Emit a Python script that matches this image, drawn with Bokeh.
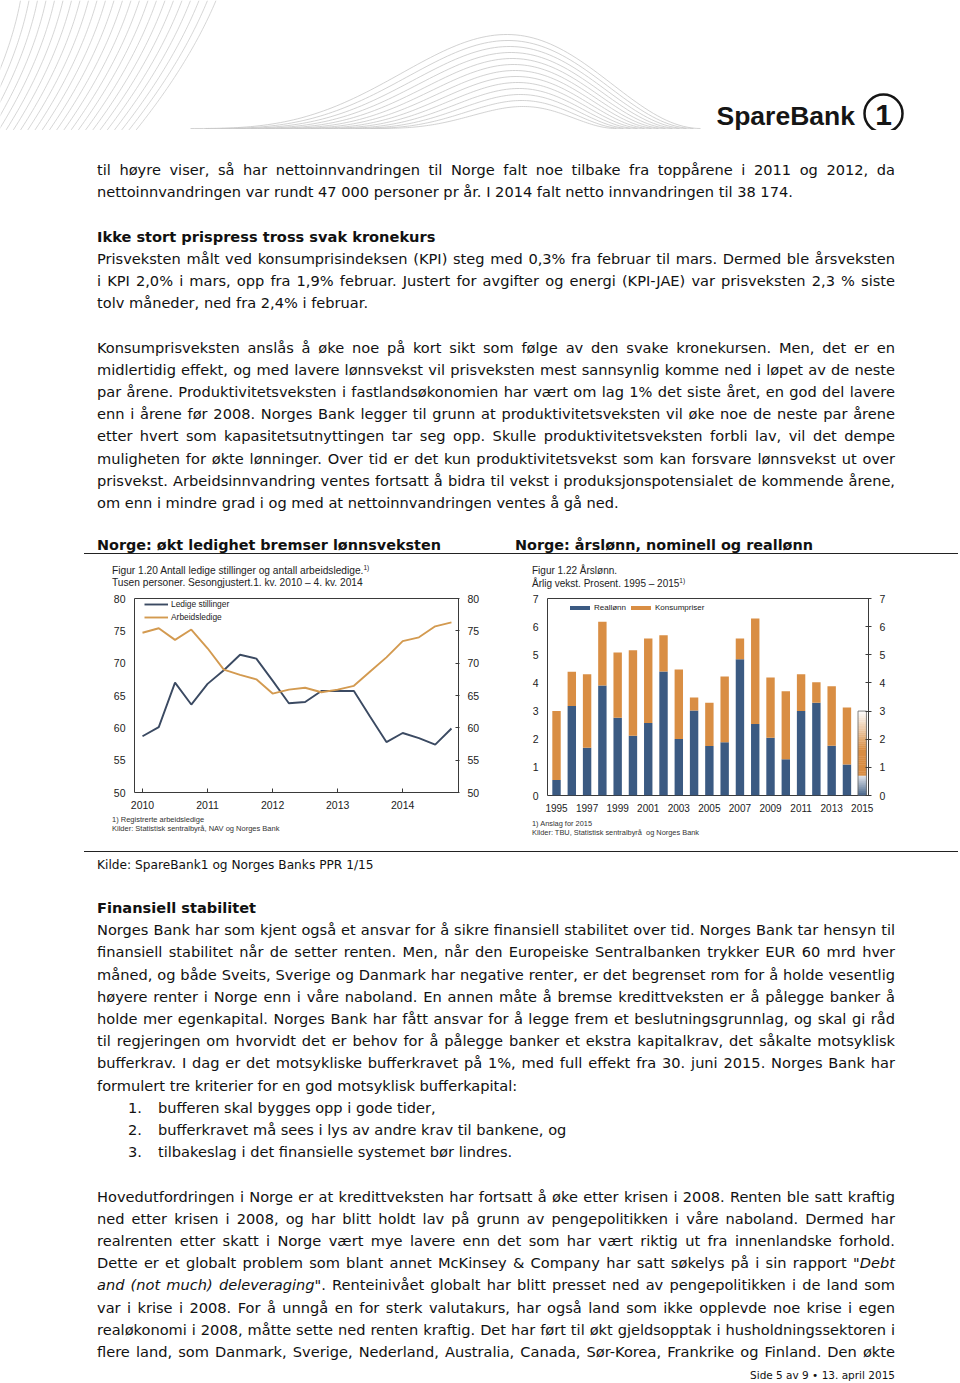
import numpy as np
from bokeh.plotting import figure
from bokeh.layouts import column, row
from bokeh.models import (Div, Spacer, Range1d, LinearAxis, Label, Legend, LegendItem,
                          FixedTicker, ColumnDataSource)
from bokeh.embed import file_html
from bokeh.resources import INLINE

# ---------------- data: chart 1 (quarterly) ----------------
periods = ["2010K1", "2010K2", "2010K3", "2010K4",
           "2011K1", "2011K2", "2011K3", "2011K4",
           "2012K1", "2012K2", "2012K3", "2012K4",
           "2013K1", "2013K2", "2013K3", "2013K4",
           "2014K1", "2014K2", "2014K3", "2014K4"]
ledige_stillinger = [58.7, 60.1, 67.0, 63.6, 66.8, 68.9, 71.3, 70.7, 67.3, 63.8,
                     64.0, 65.7, 65.7, 65.7, 61.7, 57.8, 59.2, 58.4, 57.4, 59.9]
arbeidsledige = [74.7, 75.4, 73.6, 75.2, 72.3, 69.0, 68.2, 67.5, 65.3, 65.9,
                 66.2, 65.5, 65.9, 66.5, 68.7, 70.9, 73.4, 74.0, 75.7, 76.3]
c1_xticks = [2010, 2011, 2012, 2013, 2014]
c1_yticks = [50, 55, 60, 65, 70, 75, 80]

# ---------------- data: chart 2 (annual) ----------------
aar = [1995, 1996, 1997, 1998, 1999, 2000, 2001, 2002, 2003, 2004, 2005,
       2006, 2007, 2008, 2009, 2010, 2011, 2012, 2013, 2014, 2015]
reallonn = [0.55, 3.18, 1.70, 3.91, 2.76, 2.12, 2.58, 4.41, 2.01, 3.02, 1.76,
            1.89, 4.84, 2.54, 2.05, 1.29, 3.00, 3.30, 1.77, 1.10, 0.71]
konsumpriser = [2.45, 1.22, 2.61, 2.26, 2.32, 3.04, 3.00, 1.28, 2.47, 0.46, 1.54,
                2.34, 0.74, 3.75, 2.14, 2.41, 1.31, 0.72, 2.11, 2.03, 2.29]
anslag = [False] * 20 + [True]
c2_xticks = [1995, 1997, 1999, 2001, 2003, 2005, 2007, 2009, 2011, 2013, 2015]
c2_yticks = [0, 1, 2, 3, 4, 5, 6, 7]

FONT = "Liberation Sans"
CHART_FONT_CSS = "'Liberation Sans', Arial, sans-serif"
LINE_BLUE = "#3b4a62"
LINE_ORANGE = "#d39a50"
BAR_BLUE = "#3b5a82"
BAR_ORANGE = "#d98e44"
FRAME = "#3a3a3a"
SUP = '<span style="font-size:6.5px;position:relative;top:-4px;line-height:0;">1)</span>'


def style_axis(ax, tin, tout, standoff, size="10.5px"):
    ax.axis_line_color = None
    ax.minor_tick_line_color = None
    ax.major_tick_in = tin
    ax.major_tick_out = tout
    if tin == 0 and tout == 0:
        ax.major_tick_line_color = None
    else:
        ax.major_tick_line_color = FRAME
    ax.major_label_standoff = standoff
    ax.major_label_text_font = FONT
    ax.major_label_text_font_size = size
    ax.major_label_text_color = "#222222"


def abs_line(html, left, center, size, lh, color="#222", width=400):
    top = center - lh / 2
    return (f'<div style="position:absolute;left:{left}px;top:{top:.1f}px;width:{width}px;'
            f'white-space:nowrap;font-size:{size}px;line-height:{lh}px;height:{lh}px;color:{color};">{html}</div>')


def chart_div(lines, w, h):
    inner = "".join(lines)
    return Div(text=(f'<div style="position:relative;width:{w}px;height:{h}px;'
                     f'font-family:{CHART_FONT_CSS};overflow:hidden;">{inner}</div>'),
               width=w, height=h, margin=0)


# ---------------- header ----------------
hd = figure(width=960, height=130, output_backend="svg", toolbar_location=None,
            x_range=Range1d(0, 960), y_range=Range1d(130, 0),
            x_axis_location=None, y_axis_location=None, min_border=0)
hd.grid.visible = False
hd.outline_line_color = None
t = np.linspace(0, 1, 50)
fxs, fys = [], []
for i in range(24):
    x0 = 20 + i * 8.5
    x1 = -32 + i * 7.2
    cx = (x0 + x1) / 2 + 14
    fxs.append(list((1 - t) ** 2 * x0 + 2 * (1 - t) * t * cx + t ** 2 * x1))
    fys.append(list((1 - t) ** 2 * 0 + 2 * (1 - t) * t * 64 + t ** 2 * 132))
hd.multi_line(fxs, fys, line_color="#cbcbcb", line_width=0.8)
u = np.linspace(0, 1, 120)
wxs, wys = [], []
for i in range(13):
    x0 = 190 + i * 15
    x1 = 700 - i * 7
    peak = 34 + i * 6
    wxs.append(list(x0 + (x1 - x0) * u))
    wys.append(list(128 - (128 - peak) * np.sin(np.pi * u ** 1.45) ** 2))
hd.multi_line(wxs, wys, line_color="#c6c6c6", line_width=0.8)
hd.add_layout(Label(x=716, y=115, text="SpareBank", text_font=FONT,
                    text_font_style="bold", text_font_size="26.5px", text_color="#151515",
                    text_baseline="middle"))
hd.circle(x=[883], y=[113], radius=19, fill_color=None, line_color="#151515", line_width=2.5)
hd.add_layout(Label(x=883, y=114, text="1", text_font=FONT, text_font_style="bold",
                    text_font_size="30px", text_color="#151515",
                    text_align="center", text_baseline="middle"))

# ---------------- chart 1 ----------------
qx = [int(s[:4]) + (int(s[-1]) - 1) / 4 for s in periods]
p1 = figure(width=405, height=223, output_backend="svg", toolbar_location=None,
            x_range=Range1d(2009.877, 2014.858), y_range=Range1d(50, 80),
            min_border_left=37, min_border_right=44, min_border_top=8, min_border_bottom=21)
p1.grid.visible = False
p1.outline_line_color = FRAME
p1.outline_line_width = 1
src1 = ColumnDataSource(dict(x=qx, ls=ledige_stillinger, al=arbeidsledige))
r_ls = p1.line("x", "ls", source=src1, line_color=LINE_BLUE, line_width=1.9)
r_al = p1.line("x", "al", source=src1, line_color=LINE_ORANGE, line_width=1.9)
p1.xaxis.ticker = FixedTicker(ticks=c1_xticks)
p1.yaxis.ticker = FixedTicker(ticks=c1_yticks)
style_axis(p1.xaxis[0], 4, 0, 8)
style_axis(p1.yaxis[0], 0, 0, 9)
ra1 = LinearAxis(ticker=FixedTicker(ticks=c1_yticks))
p1.add_layout(ra1, "right")
style_axis(ra1, 3, 1, 8)
leg1 = Legend(items=[LegendItem(label="Ledige stillinger", renderers=[r_ls]),
                     LegendItem(label="Arbeidsledige", renderers=[r_al])],
              location=(10, 169), orientation="vertical", padding=0, margin=0, spacing=1,
              glyph_width=24, glyph_height=12, label_height=12, label_standoff=3,
              label_text_font=FONT, label_text_font_size="8.4px", label_text_color="#222222",
              border_line_color=None, background_fill_alpha=0)
p1.add_layout(leg1)
t1 = chart_div([
    abs_line("Figur 1.20 Antall ledige stillinger og antall arbeidsledige." + SUP, 15, 16, 10.2, 12),
    abs_line("Tusen personer. Sesongjustert.1. kv. 2010 &ndash; 4. kv. 2014", 15, 28, 10.2, 12),
], 405, 35)
f1 = chart_div([
    abs_line("1) Registrerte arbeidsledige", 15, 6, 7.5, 9, "#333"),
    abs_line("Kilder: Statistisk sentralbyrå, NAV og Norges Bank", 15, 15, 7.5, 9, "#333"),
], 405, 37)

# ---------------- chart 2 ----------------
p2 = figure(width=420, height=225, output_backend="svg", toolbar_location=None,
            x_range=Range1d(1994.41, 2015.41), y_range=Range1d(0, 7),
            min_border_left=32, min_border_right=67, min_border_top=8, min_border_bottom=20)
p2.grid.visible = False
p2.outline_line_color = FRAME
p2.outline_line_width = 1
hist = [i for i, a in enumerate(anslag) if not a]
src2 = ColumnDataSource(dict(
    x=[aar[i] for i in hist],
    real=[reallonn[i] for i in hist],
    tot=[reallonn[i] + konsumpriser[i] for i in hist]))
BW = 0.55
r_real = p2.vbar(x="x", bottom=0, top="real", width=BW, source=src2,
                 fill_color=BAR_BLUE, line_color=None)
r_kpi = p2.vbar(x="x", bottom="real", top="tot", width=BW, source=src2,
                fill_color=BAR_ORANGE, line_color=None)


def mix(hexcol, w):
    r, g, b = int(hexcol[1:3], 16), int(hexcol[3:5], 16), int(hexcol[5:7], 16)
    return "#%02x%02x%02x" % (int(255 + (r - 255) * w), int(255 + (g - 255) * w), int(255 + (b - 255) * w))


n = 30
for i, a in enumerate(anslag):
    if not a:
        continue
    rv, kv = reallonn[i], konsumpriser[i]
    for lo, hi, col, kind in [(0, rv, BAR_BLUE, "b"), (rv, rv + kv, BAR_ORANGE, "o")]:
        edges = np.linspace(lo, hi, n + 1)
        f = (np.arange(n) + 0.5) / n
        if kind == "o":
            w = np.clip((1 - f) / 0.6, 0, 1)
        else:
            w = 0.15 + 0.85 * (1 - f)
        cols = [mix(col, wi) for wi in w]
        p2.vbar(x=[aar[i]] * n, bottom=list(edges[:-1]), top=list(edges[1:]), width=BW,
                fill_color=cols, line_color=cols, line_width=0.4)
    p2.vbar(x=[aar[i]], bottom=[0], top=[rv + kv], width=BW, fill_color=None,
            line_color="#666666", line_width=0.8)

p2.xaxis.ticker = FixedTicker(ticks=c2_xticks)
p2.yaxis.ticker = FixedTicker(ticks=c2_yticks)
style_axis(p2.xaxis[0], 0, 0, 8, "10px")
style_axis(p2.yaxis[0], 0, 0, 9)
ra2 = LinearAxis(ticker=FixedTicker(ticks=c2_yticks))
p2.add_layout(ra2, "right")
style_axis(ra2, 3, 3, 8)
leg2 = Legend(items=[LegendItem(label="Reallønn", renderers=[r_real]),
                     LegendItem(label="Konsumpriser", renderers=[r_kpi])],
              location=(20, 183.5), orientation="horizontal", padding=0, margin=0, spacing=2,
              glyph_width=25, glyph_height=5, label_height=5, label_width=10, label_standoff=2,
              label_text_font=FONT, label_text_font_size="8px", label_text_color="#222222",
              border_line_color=None, background_fill_alpha=0)
p2.add_layout(leg2)
t2 = chart_div([
    abs_line("Figur 1.22 Årslønn.", 17, 16, 10, 12),
    abs_line("Årlig vekst. Prosent. 1995 &ndash; 2015" + SUP, 17, 29, 10, 12),
], 420, 35)
f2 = chart_div([
    abs_line("1) Anslag for 2015", 17, 8, 7.4, 9, "#333"),
    abs_line("Kilder: TBU, Statistisk sentralbyrå&nbsp; og Norges Bank", 17, 17, 7.4, 9, "#333"),
], 420, 35)

# ---------------- text blocks ----------------
BODY = "'DejaVu Sans', Verdana, sans-serif"
LH = 22.2
FS = 14.6


def ln(text, center, origin, left=97, width=798, mode="J", bold=False, size=FS, lh=22):
    top = center - origin - lh / 2
    st = (f"position:absolute;left:{left}px;top:{top:.1f}px;width:{width}px;"
          f"line-height:{lh}px;font-size:{size}px;white-space:normal;")
    if mode == "J":
        st += "text-align:justify;text-align-last:justify;"
    elif mode == "R":
        st += "text-align:right;"
    else:
        st += "text-align:left;"
    if bold:
        st += "font-weight:bold;"
    return f'<div style="{st}">{text}</div>'


def rule(top, left=84, width=874):
    return (f'<div style="position:absolute;left:{left}px;top:{top}px;width:{width}px;'
            f'height:0;border-top:1px solid #222;"></div>')


def block(parts, h):
    return (f'<div style="position:relative;width:960px;height:{h}px;font-family:{BODY};'
            f'color:#111;overflow:hidden;">' + "".join(parts) + "</div>")


top_lines = [
    (0, "til høyre viser, så har nettoinnvandringen til Norge falt noe tilbake fra toppårene i 2011 og 2012, da", "J", False),
    (1, "nettoinnvandringen var rundt 47 000 personer pr år. I 2014 falt netto innvandringen til 38 174.", "L", False),
    (3, "Ikke stort prispress tross svak kronekurs", "L", True),
    (4, "Prisveksten målt ved konsumprisindeksen (KPI) steg med 0,3% fra februar til mars. Dermed ble årsveksten", "J", False),
    (5, "i KPI 2,0% i mars, opp fra 1,9% februar. Justert for avgifter og energi (KPI-JAE) var prisveksten 2,3 % siste", "J", False),
    (6, "tolv måneder, ned fra 2,4% i februar.", "L", False),
    (8, "Konsumprisveksten anslås å øke noe på kort sikt som følge av den svake kronekursen. Men, det er en", "J", False),
    (9, "midlertidig effekt, og med lavere lønnsvekst vil prisveksten mest sannsynlig komme ned i løpet av de neste", "J", False),
    (10, "par årene. Produktivitetsveksten i fastlandsøkonomien har vært om lag 1% det siste året, en god del lavere", "J", False),
    (11, "enn i årene før 2008. Norges Bank legger til grunn at produktivitetsveksten vil øke noe de neste par årene", "J", False),
    (12, "etter hvert som kapasitetsutnyttingen tar seg opp. Skulle produktivitetsveksten forbli lav, vil det dempe", "J", False),
    (13, "muligheten for økte lønninger. Over tid er det kun produktivitetsvekst som kan forsvare lønnsvekst ut over", "J", False),
    (14, "prisvekst. Arbeidsinnvandring ventes fortsatt å bidra til vekst i produksjonspotensialet de kommende årene,", "J", False),
    (15, "om enn i mindre grad i og med at nettoinnvandringen ventes å gå ned.", "L", False),
]
TOP0 = 130
parts1 = [ln(tx, 170 + k * LH, TOP0, mode=m, bold=b) for k, tx, m, b in top_lines]
parts1.append(ln("Norge: økt ledighet bremser lønnsveksten", 545, TOP0, mode="L", bold=True, width=410, size=14.4))
parts1.append(ln("Norge: årslønn, nominell og reallønn", 545, TOP0, left=515, mode="L", bold=True, width=420, size=14.4))
parts1.append(rule(553 - TOP0))
div1 = Div(text=block(parts1, 425), width=960, height=425, margin=0)

BOT0 = 850
bot_lines = [
    (0, "Finansiell stabilitet", "L", True),
    (1, "Norges Bank har som kjent også et ansvar for å sikre finansiell stabilitet over tid. Norges Bank tar hensyn til", "J", False),
    (2, "finansiell stabilitet når de setter renten. Men, når den Europeiske Sentralbanken trykker EUR 60 mrd hver", "J", False),
    (3, "måned, og både Sveits, Sverige og Danmark har negative renter, er det begrenset rom for å holde vesentlig", "J", False),
    (4, "høyere renter i Norge enn i våre naboland. En annen måte å bremse kredittveksten er å pålegge banker å", "J", False),
    (5, "holde mer egenkapital. Norges Bank har fått ansvar for å legge frem et beslutningsgrunnlag, og skal gi råd", "J", False),
    (6, "til regjeringen om hvorvidt det er behov for å pålegge banker et ekstra kapitalkrav, det såkalte motsyklisk", "J", False),
    (7, "bufferkrav. I dag er det motsykliske bufferkravet på 1%, med full effekt fra 30. juni 2015. Norges Bank har", "J", False),
    (8, "formulert tre kriterier for en god motsyklisk bufferkapital:", "L", False),
    (13, "Hovedutfordringen i Norge er at kredittveksten har fortsatt å øke etter krisen i 2008. Renten ble satt kraftig", "J", False),
    (14, "ned etter krisen i 2008, og har blitt holdt lav på grunn av pengepolitikken i våre naboland. Dermed har", "J", False),
    (15, "realrenten etter skatt i Norge vært mye lavere enn det som har vært riktig ut fra innenlandske forhold.", "J", False),
    (16, "Dette er et globalt problem som blant annet McKinsey &amp; Company har satt søkelys på i sin rapport <i>\"Debt</i>", "J", False),
    (17, "<i>and (not much) deleveraging\"</i>. Renteinivået globalt har blitt presset ned av pengepolitikken i de land som", "J", False),
    (18, "var i krise i 2008. For å unngå en for sterk valutakurs, har også land som ikke opplevde noe krise i egen", "J", False),
    (19, "realøkonomi i 2008, måtte sette ned renten kraftig. Det har ført til økt gjeldsopptak i husholdningssektoren i", "J", False),
    (20, "flere land, som Danmark, Sverige, Nederland, Australia, Canada, Sør-Korea, Frankrike og Finland. Den økte", "J", False),
]
list_items = [(9, "1.", "bufferen skal bygges opp i gode tider,"),
              (10, "2.", "bufferkravet må sees i lys av andre krav til bankene, og"),
              (11, "3.", "tilbakeslag i det finansielle systemet bør lindres.")]
parts2 = [rule(851 - BOT0)]
parts2.append(ln("Kilde: SpareBank1 og Norges Banks PPR 1/15", 865, BOT0, mode="L", size=12.2))
parts2 += [ln(tx, 908 + k * LH, BOT0, mode=m, bold=b) for k, tx, m, b in bot_lines]
for k, num, tx in list_items:
    parts2.append(ln(num, 908 + k * LH, BOT0, left=128, width=30, mode="L"))
    parts2.append(ln(tx, 908 + k * LH, BOT0, left=158, width=700, mode="L"))
parts2.append(ln("Side 5 av 9 &bull; 13. april 2015", 1375, BOT0, mode="R", size=10.5, lh=12))
div2 = Div(text=block(parts2, 532), width=960, height=532, margin=0)

chart1 = column(t1, p1, f1, spacing=0)
chart2 = column(t2, p2, f2, spacing=0)
charts = row(Spacer(width=97, height=295), chart1, Spacer(width=13, height=295), chart2, spacing=0)
page = column(hd, div1, charts, div2, spacing=0)

open("out.html", "w").write(file_html(page, INLINE))
